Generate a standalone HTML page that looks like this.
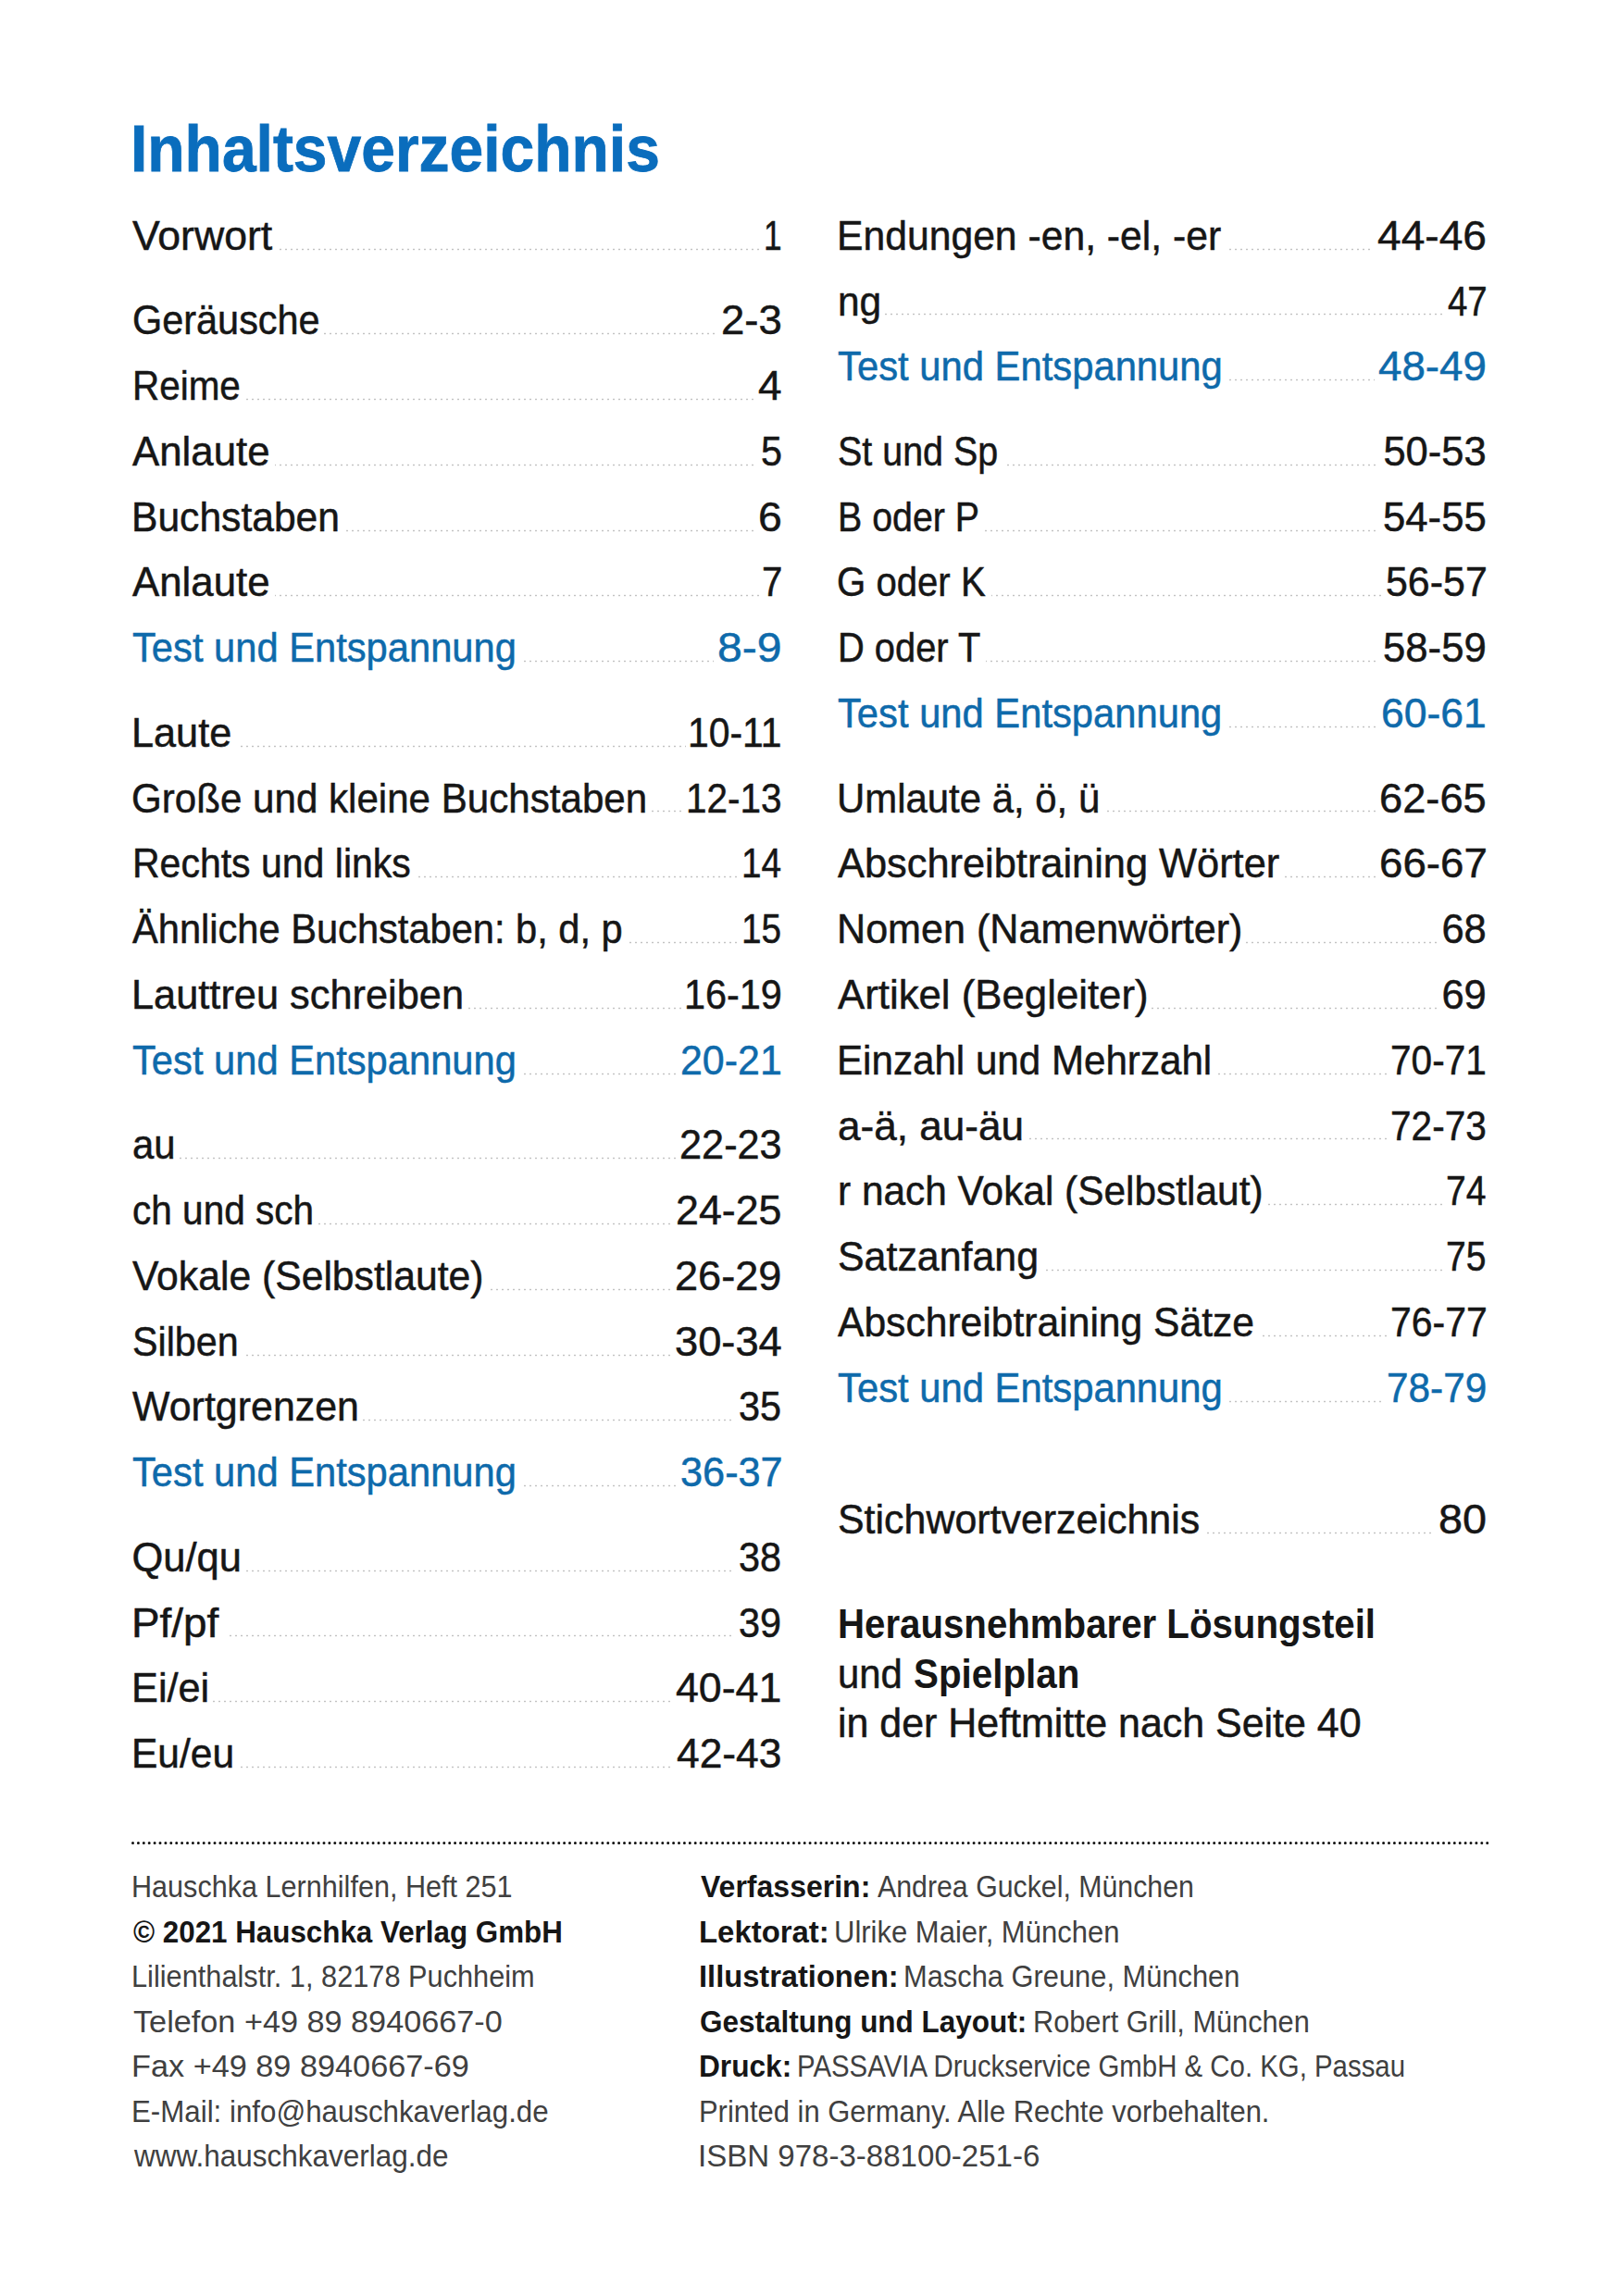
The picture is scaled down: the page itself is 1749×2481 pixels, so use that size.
<!DOCTYPE html>
<html><head><meta charset="utf-8"><style>
html,body{margin:0;padding:0;background:#fff;}
body{width:1749px;height:2481px;position:relative;overflow:hidden;font-family:"Liberation Sans", sans-serif;color:#161616;}
.t{position:absolute;white-space:nowrap;line-height:1;transform-origin:0 0;}
.r{-webkit-text-stroke:0.5px currentColor;}
.ti{-webkit-text-stroke:0.8px currentColor;}
.ld{position:absolute;height:3px;background-image:radial-gradient(circle at 50% 50%, #c2c2c2 0.8px, rgba(255,255,255,0) 1.2px);background-size:6px 3px;background-repeat:repeat-x;}
.rule{position:absolute;left:140px;top:1988px;width:1470px;height:7px;}
</style></head><body>
<div class="t r" style="left:143.40px;top:233.77px;font-size:43.5px;transform:scaleX(1.0252);">Vorwort</div>
<div class="t r" style="left:824.77px;top:233.77px;font-size:43.5px;transform:scaleX(0.8100);">1</div>
<div class="ld" style="left:300px;top:267.6px;width:522px;background-position:0px 0"></div>
<div class="t r" style="left:142.50px;top:325.27px;font-size:43.5px;transform:scaleX(0.9523);">Geräusche</div>
<div class="t r" style="left:778.81px;top:325.27px;font-size:43.5px;transform:scaleX(1.0473);">2-3</div>
<div class="ld" style="left:350px;top:359.1px;width:426px;background-position:-2px 0"></div>
<div class="t r" style="left:142.61px;top:396.07px;font-size:43.5px;transform:scaleX(0.9292);">Reime</div>
<div class="t r" style="left:819.15px;top:396.07px;font-size:43.5px;transform:scaleX(1.0545);">4</div>
<div class="ld" style="left:264px;top:429.9px;width:551px;background-position:0px 0"></div>
<div class="t r" style="left:143.40px;top:466.87px;font-size:43.5px;transform:scaleX(1.0065);">Anlaute</div>
<div class="t r" style="left:821.55px;top:466.87px;font-size:43.5px;transform:scaleX(0.9500);">5</div>
<div class="ld" style="left:297px;top:500.7px;width:521px;background-position:-3px 0"></div>
<div class="t r" style="left:142.46px;top:537.67px;font-size:43.5px;transform:scaleX(0.9792);">Buchstaben</div>
<div class="t r" style="left:818.87px;top:537.67px;font-size:43.5px;transform:scaleX(1.0667);">6</div>
<div class="ld" style="left:371px;top:571.5px;width:445px;background-position:-5px 0"></div>
<div class="t r" style="left:143.40px;top:608.47px;font-size:43.5px;transform:scaleX(1.0065);">Anlaute</div>
<div class="t r" style="left:823.05px;top:608.47px;font-size:43.5px;transform:scaleX(0.9250);">7</div>
<div class="ld" style="left:297px;top:642.3px;width:523px;background-position:-3px 0"></div>
<div class="t r" style="left:143.40px;top:679.27px;font-size:43.5px;color:#0e6aab;transform:scaleX(0.9584);">Test und Entspannung</div>
<div class="t r" style="left:775.09px;top:679.27px;font-size:43.5px;color:#0e6aab;transform:scaleX(1.1075);">8-9</div>
<div class="ld" style="left:562px;top:713.1px;width:209px;background-position:-4px 0"></div>
<div class="t r" style="left:142.42px;top:770.77px;font-size:43.5px;transform:scaleX(0.9946);">Laute</div>
<div class="t r" style="left:743.19px;top:770.77px;font-size:43.5px;transform:scaleX(0.9380);">10-11</div>
<div class="ld" style="left:256px;top:804.6px;width:485px;background-position:-4px 0"></div>
<div class="t r" style="left:142.46px;top:841.57px;font-size:43.5px;transform:scaleX(0.9681);">Große und kleine Buchstaben</div>
<div class="t r" style="left:741.01px;top:841.57px;font-size:43.5px;transform:scaleX(0.9303);">12-13</div>
<div class="ld" style="left:704px;top:875.4px;width:35px;background-position:-2px 0"></div>
<div class="t r" style="left:142.57px;top:912.37px;font-size:43.5px;transform:scaleX(0.9426);">Rechts und links</div>
<div class="t r" style="left:801.33px;top:912.37px;font-size:43.5px;transform:scaleX(0.8916);">14</div>
<div class="ld" style="left:449px;top:946.2px;width:350px;background-position:-5px 0"></div>
<div class="t r" style="left:143.40px;top:983.17px;font-size:43.5px;transform:scaleX(0.9566);">Ähnliche Buchstaben: b, d, p</div>
<div class="t r" style="left:801.33px;top:983.17px;font-size:43.5px;transform:scaleX(0.8916);">15</div>
<div class="ld" style="left:678px;top:1017.0px;width:121px;background-position:0px 0"></div>
<div class="t r" style="left:142.41px;top:1053.97px;font-size:43.5px;transform:scaleX(0.9963);">Lauttreu schreiben</div>
<div class="t r" style="left:738.64px;top:1053.97px;font-size:43.5px;transform:scaleX(0.9518);">16-19</div>
<div class="ld" style="left:505px;top:1087.8px;width:231px;background-position:-1px 0"></div>
<div class="t r" style="left:143.40px;top:1124.77px;font-size:43.5px;color:#0e6aab;transform:scaleX(0.9584);">Test und Entspannung</div>
<div class="t r" style="left:734.83px;top:1124.77px;font-size:43.5px;color:#0e6aab;transform:scaleX(0.9865);">20-21</div>
<div class="ld" style="left:562px;top:1158.6px;width:170px;background-position:-4px 0"></div>
<div class="t r" style="left:143.44px;top:1216.27px;font-size:43.5px;transform:scaleX(0.9625);">au</div>
<div class="t r" style="left:733.91px;top:1216.27px;font-size:43.5px;transform:scaleX(0.9948);">22-23</div>
<div class="ld" style="left:194px;top:1250.1px;width:537px;background-position:-2px 0"></div>
<div class="t r" style="left:143.47px;top:1287.07px;font-size:43.5px;transform:scaleX(0.9320);">ch und sch</div>
<div class="t r" style="left:730.14px;top:1287.07px;font-size:43.5px;transform:scaleX(1.0290);">24-25</div>
<div class="ld" style="left:344px;top:1320.9px;width:383px;background-position:-2px 0"></div>
<div class="t r" style="left:143.40px;top:1357.87px;font-size:43.5px;transform:scaleX(0.9810);">Vokale (Selbstlaute)</div>
<div class="t r" style="left:729.23px;top:1357.87px;font-size:43.5px;transform:scaleX(1.0374);">26-29</div>
<div class="ld" style="left:526px;top:1391.7px;width:200px;background-position:-4px 0"></div>
<div class="t r" style="left:143.45px;top:1428.67px;font-size:43.5px;transform:scaleX(0.9479);">Silben</div>
<div class="t r" style="left:728.86px;top:1428.67px;font-size:43.5px;transform:scaleX(1.0407);">30-34</div>
<div class="ld" style="left:262px;top:1462.5px;width:463px;background-position:-4px 0"></div>
<div class="t r" style="left:143.40px;top:1499.47px;font-size:43.5px;transform:scaleX(0.9868);">Wortgrenzen</div>
<div class="t r" style="left:798.45px;top:1499.47px;font-size:43.5px;transform:scaleX(0.9525);">35</div>
<div class="ld" style="left:392px;top:1533.3px;width:402px;background-position:-2px 0"></div>
<div class="t r" style="left:143.40px;top:1570.27px;font-size:43.5px;color:#0e6aab;transform:scaleX(0.9584);">Test und Entspannung</div>
<div class="t r" style="left:734.91px;top:1570.27px;font-size:43.5px;color:#0e6aab;transform:scaleX(0.9948);">36-37</div>
<div class="ld" style="left:562px;top:1604.1px;width:169px;background-position:-4px 0"></div>
<div class="t r" style="left:142.40px;top:1661.77px;font-size:43.5px;">Qu/qu</div>
<div class="t r" style="left:798.45px;top:1661.77px;font-size:43.5px;transform:scaleX(0.9525);">38</div>
<div class="ld" style="left:265px;top:1695.6px;width:529px;background-position:-1px 0"></div>
<div class="t r" style="left:142.24px;top:1732.57px;font-size:43.5px;transform:scaleX(1.0540);">Pf/pf</div>
<div class="t r" style="left:798.45px;top:1732.57px;font-size:43.5px;transform:scaleX(0.9525);">39</div>
<div class="ld" style="left:244px;top:1766.4px;width:550px;background-position:-4px 0"></div>
<div class="t r" style="left:142.41px;top:1803.37px;font-size:43.5px;transform:scaleX(0.9955);">Ei/ei</div>
<div class="t r" style="left:730.27px;top:1803.37px;font-size:43.5px;transform:scaleX(1.0278);">40-41</div>
<div class="ld" style="left:230px;top:1837.2px;width:496px;background-position:-2px 0"></div>
<div class="t r" style="left:142.47px;top:1874.17px;font-size:43.5px;transform:scaleX(0.9771);">Eu/eu</div>
<div class="t r" style="left:731.18px;top:1874.17px;font-size:43.5px;transform:scaleX(1.0196);">42-43</div>
<div class="ld" style="left:257px;top:1908.0px;width:470px;background-position:-5px 0"></div>
<div class="t r" style="left:904.36px;top:233.77px;font-size:43.5px;transform:scaleX(0.9810);">Endungen -en, -el, -er</div>
<div class="t r" style="left:1487.94px;top:233.77px;font-size:43.5px;transform:scaleX(1.0599);">44-46</div>
<div class="ld" style="left:1325px;top:267.6px;width:159px;background-position:-5px 0"></div>
<div class="t r" style="left:905.35px;top:304.57px;font-size:43.5px;transform:scaleX(0.9753);">ng</div>
<div class="t r" style="left:1563.82px;top:304.57px;font-size:43.5px;transform:scaleX(0.8829);">47</div>
<div class="ld" style="left:956px;top:338.4px;width:604px;background-position:-2px 0"></div>
<div class="t r" style="left:905.30px;top:375.37px;font-size:43.5px;color:#0e6aab;transform:scaleX(0.9605);">Test und Entspannung</div>
<div class="t r" style="left:1488.95px;top:375.37px;font-size:43.5px;color:#0e6aab;transform:scaleX(1.0508);">48-49</div>
<div class="ld" style="left:1325px;top:409.2px;width:160px;background-position:-5px 0"></div>
<div class="t r" style="left:905.39px;top:466.87px;font-size:43.5px;transform:scaleX(0.9070);">St und Sp</div>
<div class="t r" style="left:1494.40px;top:466.87px;font-size:43.5px;">50-53</div>
<div class="ld" style="left:1084px;top:500.7px;width:406px;background-position:-4px 0"></div>
<div class="t r" style="left:904.59px;top:537.67px;font-size:43.5px;transform:scaleX(0.9041);">B oder P</div>
<div class="t r" style="left:1494.00px;top:537.67px;font-size:43.5px;transform:scaleX(1.0049);">54-55</div>
<div class="ld" style="left:1062px;top:571.5px;width:428px;background-position:0px 0"></div>
<div class="t r" style="left:904.45px;top:608.47px;font-size:43.5px;transform:scaleX(0.9229);">G oder K</div>
<div class="t r" style="left:1497.01px;top:608.47px;font-size:43.5px;transform:scaleX(0.9865);">56-57</div>
<div class="ld" style="left:1071px;top:642.3px;width:422px;background-position:-3px 0"></div>
<div class="t r" style="left:904.55px;top:679.27px;font-size:43.5px;transform:scaleX(0.9158);">D oder T</div>
<div class="t r" style="left:1494.00px;top:679.27px;font-size:43.5px;transform:scaleX(1.0049);">58-59</div>
<div class="ld" style="left:1065px;top:713.1px;width:425px;background-position:-3px 0"></div>
<div class="t r" style="left:905.30px;top:750.07px;font-size:43.5px;color:#0e6aab;transform:scaleX(0.9593);">Test und Entspannung</div>
<div class="t r" style="left:1491.95px;top:750.07px;font-size:43.5px;color:#0e6aab;transform:scaleX(1.0235);">60-61</div>
<div class="ld" style="left:1324px;top:783.9px;width:165px;background-position:-4px 0"></div>
<div class="t r" style="left:904.41px;top:841.57px;font-size:43.5px;transform:scaleX(0.9635);">Umlaute ä, ö, ü</div>
<div class="t r" style="left:1490.12px;top:841.57px;font-size:43.5px;transform:scaleX(1.0401);">62-65</div>
<div class="ld" style="left:1192px;top:875.4px;width:295px;background-position:-4px 0"></div>
<div class="t r" style="left:905.30px;top:912.37px;font-size:43.5px;transform:scaleX(0.9969);">Abschreibtraining Wörter</div>
<div class="t r" style="left:1490.10px;top:912.37px;font-size:43.5px;transform:scaleX(1.0498);">66-67</div>
<div class="ld" style="left:1388px;top:946.2px;width:99px;background-position:-2px 0"></div>
<div class="t r" style="left:904.33px;top:983.17px;font-size:43.5px;transform:scaleX(0.9911);">Nomen (Namenwörter)</div>
<div class="t r" style="left:1557.40px;top:983.17px;font-size:43.5px;">68</div>
<div class="ld" style="left:1346px;top:1017.0px;width:208px;background-position:-2px 0"></div>
<div class="t r" style="left:905.30px;top:1053.97px;font-size:43.5px;transform:scaleX(1.0060);">Artikel (Begleiter)</div>
<div class="t r" style="left:1557.40px;top:1053.97px;font-size:43.5px;">69</div>
<div class="ld" style="left:1244px;top:1087.8px;width:310px;background-position:-2px 0"></div>
<div class="t r" style="left:904.39px;top:1124.77px;font-size:43.5px;transform:scaleX(0.9686);">Einzahl und Mehrzahl</div>
<div class="t r" style="left:1501.93px;top:1124.77px;font-size:43.5px;transform:scaleX(0.9328);">70-71</div>
<div class="ld" style="left:1313px;top:1158.6px;width:186px;background-position:-5px 0"></div>
<div class="t r" style="left:905.29px;top:1195.57px;font-size:43.5px;transform:scaleX(1.0133);">a-ä, au-äu</div>
<div class="t r" style="left:1501.93px;top:1195.57px;font-size:43.5px;transform:scaleX(0.9328);">72-73</div>
<div class="ld" style="left:1110px;top:1229.4px;width:389px;background-position:0px 0"></div>
<div class="t r" style="left:905.35px;top:1266.37px;font-size:43.5px;transform:scaleX(0.9747);">r nach Vokal (Selbstlaut)</div>
<div class="t r" style="left:1562.20px;top:1266.37px;font-size:43.5px;transform:scaleX(0.8984);">74</div>
<div class="ld" style="left:1368px;top:1300.2px;width:191px;background-position:0px 0"></div>
<div class="t r" style="left:905.31px;top:1337.17px;font-size:43.5px;transform:scaleX(0.9862);">Satzanfang</div>
<div class="t r" style="left:1562.20px;top:1337.17px;font-size:43.5px;transform:scaleX(0.8984);">75</div>
<div class="ld" style="left:1126px;top:1371.0px;width:433px;background-position:-4px 0"></div>
<div class="t r" style="left:905.30px;top:1407.97px;font-size:43.5px;transform:scaleX(0.9796);">Abschreibtraining Sätze</div>
<div class="t r" style="left:1501.92px;top:1407.97px;font-size:43.5px;transform:scaleX(0.9415);">76-77</div>
<div class="ld" style="left:1360px;top:1441.8px;width:139px;background-position:-4px 0"></div>
<div class="t r" style="left:905.30px;top:1478.77px;font-size:43.5px;color:#0e6aab;transform:scaleX(0.9605);">Test und Entspannung</div>
<div class="t r" style="left:1497.55px;top:1478.77px;font-size:43.5px;color:#0e6aab;transform:scaleX(0.9726);">78-79</div>
<div class="ld" style="left:1325px;top:1512.6px;width:169px;background-position:-5px 0"></div>
<div class="t r" style="left:905.31px;top:1621.37px;font-size:43.5px;transform:scaleX(0.9865);">Stichwortverzeichnis</div>
<div class="t r" style="left:1553.93px;top:1621.37px;font-size:43.5px;transform:scaleX(1.0738);">80</div>
<div class="ld" style="left:1302px;top:1655.2px;width:248px;background-position:0px 0"></div>
<div class="t ti" style="left:141.23px;top:125.93px;font-size:70px;font-weight:bold;color:#0a6dbd;transform:scaleX(0.9422);">Inhaltsverzeichnis</div>
<div class="t" style="left:905.15px;top:1734.17px;font-size:43.5px;font-weight:bold;transform:scaleX(0.9244);">Herausnehmbarer Lösungsteil</div>
<div class="t r" style="left:905.08px;top:1787.77px;font-size:43.5px;transform:scaleX(0.9622);">und</div>
<div class="t" style="left:986.67px;top:1787.77px;font-size:43.5px;font-weight:bold;transform:scaleX(0.9278);">Spielplan</div>
<div class="t r" style="left:905.03px;top:1841.37px;font-size:43.5px;transform:scaleX(0.9869);">in der Heftmitte nach Seite 40</div>
<div class="t" style="left:142.08px;top:2022.15px;font-size:33.6px;color:#404040;transform:scaleX(0.9111);">Hauschka Lernhilfen, Heft 251</div>
<div class="t" style="left:143.90px;top:2070.70px;font-size:33.6px;font-weight:bold;transform:scaleX(0.9333);">© 2021 Hauschka Verlag GmbH</div>
<div class="t" style="left:142.07px;top:2119.25px;font-size:33.6px;color:#404040;transform:scaleX(0.9154);">Lilienthalstr. 1, 82178 Puchheim</div>
<div class="t" style="left:143.90px;top:2167.80px;font-size:33.6px;color:#404040;transform:scaleX(1.0195);">Telefon +49 89 8940667-0</div>
<div class="t" style="left:141.86px;top:2216.35px;font-size:33.6px;color:#404040;transform:scaleX(1.0204);">Fax +49 89 8940667-69</div>
<div class="t" style="left:142.04px;top:2264.90px;font-size:33.6px;color:#404040;transform:scaleX(0.9312);">E-Mail: info@hauschkaverlag.de</div>
<div class="t" style="left:144.84px;top:2313.45px;font-size:33.6px;color:#404040;transform:scaleX(0.9373);">www.hauschkaverlag.de</div>
<div class="t" style="left:757.30px;top:2022.15px;font-size:33.6px;font-weight:bold;transform:scaleX(0.9536);">Verfasserin:</div>
<div class="t" style="left:947.60px;top:2022.15px;font-size:33.6px;color:#404040;transform:scaleX(0.9024);">Andrea Guckel, München</div>
<div class="t" style="left:755.34px;top:2070.70px;font-size:33.6px;font-weight:bold;transform:scaleX(0.9800);">Lektorat:</div>
<div class="t" style="left:901.15px;top:2070.70px;font-size:33.6px;color:#404040;transform:scaleX(0.9232);">Ulrike Maier, München</div>
<div class="t" style="left:755.36px;top:2119.25px;font-size:33.6px;font-weight:bold;transform:scaleX(0.9718);">Illustrationen:</div>
<div class="t" style="left:976.16px;top:2119.25px;font-size:33.6px;color:#404040;transform:scaleX(0.9183);">Mascha Greune, München</div>
<div class="t" style="left:756.36px;top:2167.80px;font-size:33.6px;font-weight:bold;transform:scaleX(0.9374);">Gestaltung und Layout:</div>
<div class="t" style="left:1115.77px;top:2167.80px;font-size:33.6px;color:#404040;transform:scaleX(0.9148);">Robert Grill, München</div>
<div class="t" style="left:755.42px;top:2216.35px;font-size:33.6px;font-weight:bold;transform:scaleX(0.9419);">Druck:</div>
<div class="t" style="left:860.85px;top:2216.35px;font-size:33.6px;color:#404040;transform:scaleX(0.8751);">PASSAVIA Druckservice GmbH &amp; Co. KG, Passau</div>
<div class="t" style="left:755.46px;top:2264.90px;font-size:33.6px;color:#404040;transform:scaleX(0.9208);">Printed in Germany. Alle Rechte vorbehalten.</div>
<div class="t" style="left:754.35px;top:2313.45px;font-size:33.6px;color:#404040;transform:scaleX(0.9843);">ISBN 978-3-88100-251-6</div>
<svg class="rule" width="1470" height="7" viewBox="0 0 1470 7"><line x1="3.5" y1="3.5" x2="1467" y2="3.5" stroke="#111" stroke-width="3" stroke-linecap="round" stroke-dasharray="0 5.9"/></svg>
</body></html>
